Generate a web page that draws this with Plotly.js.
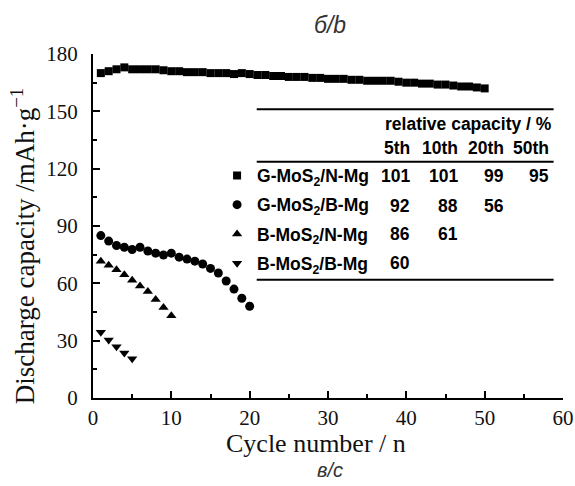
<!DOCTYPE html>
<html>
<head>
<meta charset="utf-8">
<script src="https://cdn.plot.ly/plotly-3.0.1.min.js"></script>
<style>html,body{margin:0;padding:0;background:#fff;}#chart{width:575px;height:486px;}</style>
</head>
<body>
<div id="chart"></div>
<script>
// ---- data ----
const seriesNames = ["G-MoS<sub>2</sub>/N-Mg", "G-MoS<sub>2</sub>/B-Mg", "B-MoS<sub>2</sub>/N-Mg", "B-MoS<sub>2</sub>/B-Mg"];
const cyclesGN = [1,2,3,4,5,6,7,8,9,10,11,12,13,14,15,16,17,18,19,20,21,22,23,24,25,26,27,28,29,30,31,32,33,34,35,36,37,38,39,40,41,42,43,44,45,46,47,48,49,50];
const capGN = [170,171,172,173,172,172,172,172,171.5,171,171,170.5,170.5,170.5,170,170,170,169.5,170,169.5,169,169,168.5,168.5,168,168,168,167.5,167.5,167,167,167,166.5,166.5,166,166,166,166,165.5,165,165,164.5,164.5,164,164,163.5,163,163,162.5,162];
const cyclesGB = [1,2,3,4,5,6,7,8,9,10,11,12,13,14,15,16,17,18,19,20];
const capGB = [85.0,82.1,79.8,78.9,77.7,78.9,76.9,75.8,74.8,75.8,73.7,72.7,71.6,70.1,67.8,65.4,61.2,57.0,52.2,48.0];
const cyclesBN = [1,2,3,4,5,6,7,8,9,10];
const capBN = [71.6,69.4,67.1,64.5,61.6,58.6,55.7,51.6,47.3,43.1];
const cyclesBB = [1,2,3,4,5];
const capBB = [34.4,30.3,26.8,23.6,20.5];

const tableHeader = "relative capacity / %";
const tableCols = ["5th", "10th", "20th", "50th"];
const relCap = [
  ["101", "101", "99", "95"],
  ["92", "88", "56", ""],
  ["86", "61", "", ""],
  ["60", "", "", ""]
];

const xTitle = "Cycle number / n";
const yTitle = "Discharge capacity /mAh·g<sup>−1</sup>";
const topCaption = "б/b";
const bottomCaption = "в/с";

// ---- layout helpers (positions) ----
const symbols = ["square", "circle", "triangle-up", "triangle-down"];
const sizes = [8, 9, 9, 9];
const xs = [cyclesGN, cyclesGB, cyclesBN, cyclesBB];
const ys = [capGN, capGB, capBN, capBB];

const traces = seriesNames.map((n, i) => ({
  x: xs[i], y: ys[i], name: "<b>" + n + "</b>", type: "scatter", mode: "markers",
  legendgroup: "g" + i,
  marker: {symbol: symbols[i], size: sizes[i], color: "#000", line: {width: 0}}
}));

const tableFont = {family: "Liberation Sans, Arial, sans-serif", size: 17.5, color: "#000"};
const colRight = [40.7, 46.85, 52.7, 58.5];   // right edges of columns (x data units)
const rowY = [116.3, 100.7, 85.6, 70.6];
const annotations = [];
annotations.push({xref: "x", yref: "y", x: 58.8, y: 143.3, xanchor: "right", yanchor: "middle",
  text: "<b>" + tableHeader + "</b>", showarrow: false, font: tableFont});
tableCols.forEach((c, j) => annotations.push({xref: "x", yref: "y", x: colRight[j], y: 130.8,
  xanchor: "right", yanchor: "middle", text: "<b>" + c + "</b>", showarrow: false, font: tableFont}));
relCap.forEach((row, i) => row.forEach((v, j) => {
  if (v) annotations.push({xref: "x", yref: "y", x: colRight[j], y: rowY[i],
    xanchor: "right", yanchor: "middle", text: "<b>" + v + "</b>", showarrow: false, font: tableFont});
}));
annotations.push({xref: "paper", yref: "paper", x: -0.149, y: 0.444, textangle: -90,
  xanchor: "center", yanchor: "middle", showarrow: false, text: yTitle,
  font: {family: "Liberation Serif, Times New Roman, serif", size: 27, color: "#111"}});
annotations.push({xref: "paper", yref: "paper", x: 0.474, y: -0.132,
  xanchor: "center", yanchor: "middle", showarrow: false, text: xTitle,
  font: {family: "Liberation Serif, Times New Roman, serif", size: 26, color: "#111"}});
annotations.push({xref: "paper", yref: "paper", x: 0.505, y: -0.208,
  xanchor: "center", yanchor: "middle", showarrow: false, text: "<i>" + bottomCaption + "</i>",
  font: {family: "Liberation Sans, Arial, sans-serif", size: 20, color: "#333"}});

const lineY = [151.1, 123.6, 61.9];
const shapes = lineY.map(v => ({type: "line", xref: "x", yref: "y", x0: 20.9, x1: 58.8, y0: v, y1: v,
  line: {color: "#000", width: 2}}));

const axisFont = {family: "Liberation Serif, Times New Roman, serif", size: 21, color: "#111"};
const layout = {
  width: 575, height: 486,
  margin: {l: 93, r: 12, t: 53.5, b: 88},
  paper_bgcolor: "#fff", plot_bgcolor: "#fff",
  title: {text: "<i>" + topCaption + "</i>", x: 0.574, xanchor: "center", y: 0.948, yanchor: "middle",
    font: {family: "Liberation Sans, Arial, sans-serif", size: 23, color: "#333"}},
  showlegend: true,
  legend: {x: 0.264, y: 0.699, xanchor: "left", yanchor: "top", bgcolor: "rgba(0,0,0,0)",
    traceorder: "grouped", tracegroupgap: 3.5,
    font: {family: "Liberation Sans, Arial, sans-serif", size: 17.5, color: "#000"}},
  xaxis: {range: [0, 60], dtick: 10, tick0: 0, showgrid: false, zeroline: false,
    showline: true, linecolor: "#000", linewidth: 2, ticks: "inside", ticklen: 7, tickwidth: 2, tickcolor: "#000",
    minor: {ticks: "inside", ticklen: 4, tickwidth: 2, dtick: 5, tickcolor: "#000"},
    tickfont: axisFont, fixedrange: true},
  yaxis: {range: [0, 180], dtick: 30, tick0: 0, showgrid: false, zeroline: false,
    showline: true, linecolor: "#000", linewidth: 2, ticks: "inside", ticklen: 7, tickwidth: 2, tickcolor: "#000",
    minor: {ticks: "inside", ticklen: 4, tickwidth: 2, dtick: 15, tickcolor: "#000"},
    ticklabelstandoff: 9,
    tickfont: axisFont, fixedrange: true},
  annotations: annotations,
  shapes: shapes
};
Plotly.newPlot("chart", traces, layout, {displayModeBar: false, staticPlot: true});
</script>
</body>
</html>
